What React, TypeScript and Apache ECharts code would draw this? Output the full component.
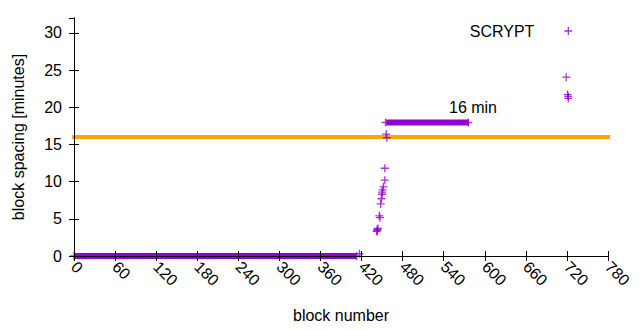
import React, { useEffect, useRef } from "react";
import * as echarts from "echarts";

const PURPLE = "#9400d3";
const ORANGE = "#ffa500";
const FONT = "'Liberation Sans', Arial, sans-serif";
const PLUS = "path://M0,4H8M4,0V8";

// [block number, block spacing in minutes]
const scryptPoints: [number, number][] = [
  [0, 0], [413, 0], [417, 0.3],
  [442, 3.3], [443, 3.6], [443, 3.4], [444, 3.7],
  [446, 5.4], [447, 5.15],
  [448, 7.0], [449, 7.7],
  [450, 8.3], [450, 8.6], [451, 8.9],
  [452, 9.3], [454, 10.2], [454, 11.8],
  [456, 16.4], [457, 15.9],
  [455, 17.95], [576, 17.95],
  [719, 24.05], [721, 21.7], [722, 21.45], [722, 21.2],
];
// dense runs of consecutive blocks (start, end)
const zeroRun: [number, number][] = [[0, 0], [413, 0]];
const plateauRun: [number, number][] = [[456, 17.95], [577, 17.95]];
// 16 minute reference
const targetLine: [number, number][] = [[0, 16], [780, 16]];
const targetLabel = "16 min";

const xMin = 0, xMax = 780, xStep = 60;
const yMin = 0, yMax = 32, yStep = 5;

export default function App() {
  const ref = useRef<HTMLDivElement>(null);
  useEffect(() => {
    if (!ref.current) return;
    const chart = echarts.init(ref.current, undefined, { renderer: "svg" });
    const axisCommon = {
      axisLine: { show: true, lineStyle: { color: "#000", width: 1 } },
      axisTick: { show: true, inside: true, length: 5, lineStyle: { color: "#000" } },
      splitLine: { show: false },
      z: 10,
    };
    chart.setOption({
      animation: false,
      backgroundColor: "#fff",
      textStyle: { fontFamily: FONT },
      grid: { left: 74, right: 32, top: 18, bottom: 74, containLabel: false },
      legend: {
        data: ["SCRYPT"],
        align: "right",
        right: 62,
        top: 18,
        itemWidth: 58,
        itemHeight: 8,
        icon: PLUS,
        symbolKeepAspect: true,
        itemStyle: { color: "transparent", borderColor: PURPLE, borderWidth: 1.3 },
        textStyle: { fontSize: 16, color: "#000", fontFamily: FONT },
      },
      xAxis: [
        {
          ...axisCommon,
          type: "value",
          position: "bottom",
          min: xMin, max: xMax, interval: xStep,
          name: "block number",
          nameLocation: "middle",
          nameGap: 51,
          nameTextStyle: { fontSize: 16, color: "#000", fontFamily: FONT },
          axisLabel: { rotate: -45, margin: 8, fontSize: 16, color: "#000", fontFamily: FONT },
        },
        {
          ...axisCommon,
          type: "value",
          position: "top",
          min: xMin, max: xMax, interval: xStep,
          axisLabel: { show: false },
        },
      ],
      yAxis: [
        {
          ...axisCommon,
          type: "value",
          position: "left",
          min: yMin, max: yMax, interval: yStep,
          name: "block spacing [minutes]",
          nameLocation: "middle",
          nameGap: 48,
          nameTextStyle: { fontSize: 16, color: "#000", fontFamily: FONT },
          axisLabel: { margin: 12, fontSize: 16, color: "#000", fontFamily: FONT, showMaxLabel: false },
        },
        {
          ...axisCommon,
          type: "value",
          position: "right",
          min: yMin, max: yMax, interval: yStep,
          axisLabel: { show: false },
        },
      ],
      series: [
        {
          name: "target",
          type: "line",
          data: targetLine,
          symbol: "none",
          clip: false,
          lineStyle: { color: ORANGE, width: 4, cap: "square" },
          z: 1,
        },
        {
          name: "zeroRun",
          type: "line",
          data: zeroRun,
          symbol: "none",
          clip: false,
          lineStyle: { color: PURPLE, width: 6, cap: "butt" },
          z: 2,
        },
        {
          name: "plateauRun",
          type: "line",
          data: plateauRun,
          symbol: "none",
          lineStyle: { color: PURPLE, width: 6, cap: "butt" },
          z: 2,
        },
        {
          name: "SCRYPT",
          type: "scatter",
          data: scryptPoints,
          symbol: PLUS,
          symbolSize: 8,
          clip: false,
          itemStyle: { color: "transparent", borderColor: PURPLE, borderWidth: 1.3 },
          z: 3,
        },
      ],
      graphic: [
        {
          type: "text",
          x: 473,
          y: 107,
          style: {
            text: targetLabel,
            fontSize: 16,
            fontFamily: FONT,
            fill: "#000",
            textAlign: "center",
            textVerticalAlign: "middle",
          },
        },
      ],
    });
    return () => chart.dispose();
  }, []);
  return <div ref={ref} style={{ width: 640, height: 330, position: "absolute", left: 0, top: 0 }} />;
}
